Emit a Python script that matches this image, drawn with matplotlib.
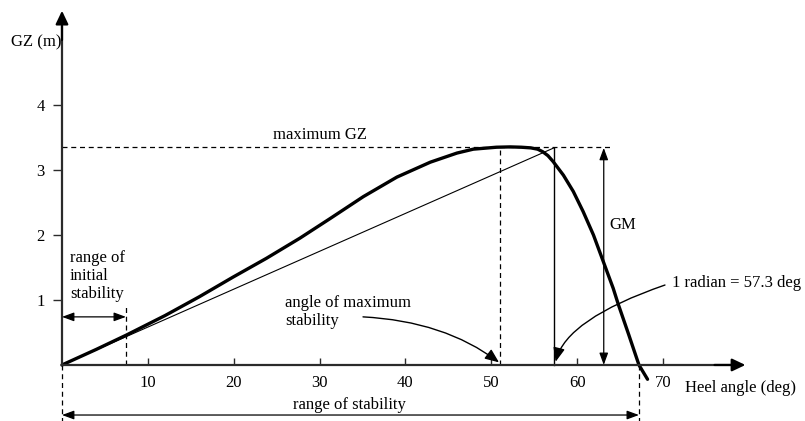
import matplotlib
matplotlib.use('Agg')
import matplotlib.pyplot as plt

plt.rcParams['font.family'] = ['Liberation Serif', 'DejaVu Serif']
plt.rcParams['font.size'] = 12

# GZ curve (heel angle in deg, GZ in m)
heel = [0, 4, 7.5, 12, 16, 19.9, 23.8, 27.7, 31.2, 35.1, 39.0, 42.9, 46.0,
        47.9, 50.6, 52.2, 53.5, 54.6, 55.4, 56.0, 56.6, 57.2, 58.4, 59.55,
        60.7, 61.9, 63.05, 64.2, 64.8, 66.0, 67.2, 68.2]
gz = [0, 0.24, 0.46, 0.76, 1.05, 1.35, 1.64, 1.95, 2.25, 2.59, 2.89, 3.12, 3.26,
      3.32, 3.35, 3.355, 3.35, 3.34, 3.32, 3.28, 3.22, 3.13, 2.92, 2.67,
      2.36, 2.0, 1.59, 1.18, 0.93, 0.47, 0.0, -0.22]

x_ticks = [10, 20, 30, 40, 50, 60, 70]
y_ticks = [1, 2, 3, 4]

max_gz = 3.35        # maximum GZ
gm = 3.34            # GM, read at 1 radian
radian = 57.3        # 1 radian in deg
angle_max = 51.0     # angle of maximum stability
initial_range = 7.45 # end of range of initial stability
vanishing = 67.2     # angle of vanishing stability
gm_x = 63.1          # where the GM arrow is drawn

# axes fill the whole figure so data units map straight onto the sketch
fig = plt.figure(figsize=(8.05, 4.21), dpi=100)
ax = fig.add_axes([0, 0, 1, 1])
ax.set_xlim(-7.22, 86.54)
ax.set_ylim(-0.862, 5.615)
ax.patch.set_visible(False)

axis_col = '#2b2b2b'
for spine in ('top', 'right'):
    ax.spines[spine].set_visible(False)
ax.spines['left'].set_position(('data', 0))
ax.spines['bottom'].set_position(('data', 0))
ax.spines['left'].set_bounds(0, 5.2)
ax.spines['bottom'].set_bounds(0, 78.0)
for spine in ('left', 'bottom'):
    ax.spines[spine].set_linewidth(1.6)
    ax.spines[spine].set_color(axis_col)

ax.set_xticks(x_ticks)
ax.set_yticks(y_ticks)
ax.tick_params(axis='x', direction='in', length=5, width=1.0, pad=7,
               color=axis_col, labelsize=12)
ax.tick_params(axis='y', direction='out', length=6.5, width=1.0, pad=6,
               color=axis_col, labelsize=12)

# axis arrow heads
head = dict(arrowstyle='-|>,head_length=0.8,head_width=0.38', color='black',
            lw=1.6, mutation_scale=10, shrinkA=0, shrinkB=0)
ax.annotate('', xy=(0, 5.45), xytext=(0, 5.0), arrowprops=head)
ax.annotate('', xy=(79.6, 0), xytext=(76, 0), arrowprops=head)

# curve and tangent at origin
ax.plot(heel, gz, color='black', lw=2.4, solid_joinstyle='round',
        solid_capstyle='round')
ax.plot([0, radian], [0, gm], color='black', lw=0.8)

dash = dict(color='black', lw=0.9, ls=(0, (4, 3)))
ax.plot([0, 64.2], [max_gz, max_gz], **dash)
ax.plot([angle_max, angle_max], [0, max_gz], **dash)
ax.plot([initial_range, initial_range], [0, 0.89], **dash)
ax.plot([0, 0], [0, -0.862], **dash)
ax.plot([vanishing, vanishing], [0, -0.862], **dash)

ax.plot([radian, radian], [0, gm], color='black', lw=1.0)

both = dict(arrowstyle='<|-|>,head_length=0.6,head_width=0.22', color='black',
            lw=0.9, mutation_scale=12, shrinkA=0, shrinkB=0)
ax.annotate('', xy=(gm_x, gm), xytext=(gm_x, 0), arrowprops=both)
ax.annotate('', xy=(initial_range, 0.74), xytext=(0, 0.74), arrowprops=both)
ax.annotate('', xy=(vanishing, -0.77), xytext=(0, -0.77), arrowprops=both)

# curved pointers
ax.annotate('', xy=(50.9, 0.04), xytext=(35.06, 0.74),
            arrowprops=dict(arrowstyle='-|>,head_length=0.6,head_width=0.25',
                            color='black', lw=1.0, mutation_scale=14,
                            shrinkA=0, shrinkB=0,
                            connectionstyle='angle3,angleA=-3,angleB=-37'))
ax.annotate('', xy=(57.5, 0.05), xytext=(70.23, 1.23),
            arrowprops=dict(arrowstyle='-|>,head_length=0.6,head_width=0.25',
                            color='black', lw=1.0, mutation_scale=14,
                            shrinkA=0, shrinkB=0,
                            connectionstyle='angle3,angleA=19,angleB=76'))

# labels
ax.text(-0.1, 4.97, 'GZ (m)', ha='right', va='center')
ax.text(72.6, -0.35, 'Heel angle (deg)', ha='left', va='center')
ax.text(30, 3.54, 'maximum GZ', ha='center', va='center')
ax.text(0.93, 1.37, 'range of\ninitial\nstability', ha='left', va='center',
        linespacing=1.15)
ax.text(26, 0.82, 'angle of maximum\nstability', ha='left', va='center',
        linespacing=1.15)
ax.text(63.7, 2.15, 'GM', ha='left', va='center')
ax.text(71.05, 1.26, '1 radian = 57.3 deg', ha='left', va='center')
ax.text(33.5, -0.62, 'range of stability', ha='center', va='center')

fig.savefig('out.png', dpi=100)
